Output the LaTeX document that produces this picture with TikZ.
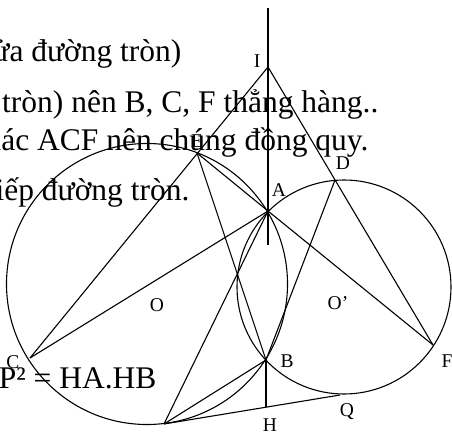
\documentclass[tikz,border=0pt]{standalone}
\usepackage{fontspec}
\setmainfont{Liberation Serif}
\begin{document}
\begin{tikzpicture}[x=1pt,y=-1pt,line width=1.1pt,
  lbl/.style={font=\fontsize{19.5}{20}\selectfont,inner sep=0pt},
  txt/.style={font=\fontsize{31.5}{32}\selectfont,anchor=base east,inner sep=0pt}]
\useasboundingbox (0,0) rectangle (452,433);
\clip (0,0) rectangle (452,433);
% text lines (cut at the left edge)
\node[txt] (t1) at (182,62) {nửa đường tròn)};
\node[txt] (t2) at (379,113) {đường tròn) nên B, C, F thẳng hàng..};
\node[txt] (t3) at (369,150) {giác ACF nên chúng đồng quy.};
\node[txt] (t4) at (190,200) {tiếp đường tròn.};
\node[txt] (t5) at (157,388) {HP² = HA.HB};
% points
\coordinate (Top) at (268,8);
\coordinate (Vend) at (268,245);
\coordinate (I) at (268,67);
\coordinate (A) at (268,211);
\coordinate (B) at (266,360);
\coordinate (E) at (197,153);
\coordinate (D) at (335,180);
\coordinate (C) at (30,358);
\coordinate (F) at (433,345);
\coordinate (P) at (164,424);
\coordinate (Q) at (340,395);
\coordinate (H) at (266,407);
\coordinate (O) at (147,284);
\coordinate (O2) at (344,287);
% circles
\draw (O) circle[radius=140.5pt];
\draw (O2) circle[radius=107pt];
% lines
\draw (Top) -- (Vend);
\draw (I) -- (C);
\draw (I) -- (F);
\draw (C) -- (A);
\draw (A) -- (F);
\draw (E) -- (A);
\draw (E) -- (B);
\draw (D) -- (B);
\draw (A) -- (P);
\draw (P) -- (B);
\draw (P) -- (Q);
\draw (B) -- (H);
% labels
\node[lbl] (lI) at (257,61) {I};
\node[lbl] (lA) at (279,190) {A};
\node[lbl] (lE) at (197,141) {E};
\node[lbl] (lD) at (343,163) {D};
\node[lbl] (lO) at (157,305) {O};
\node[lbl] (lO2) at (338,303) {O'};
\node[lbl] (lB) at (287,361) {B};
\node[lbl] (lF) at (447,361) {F};
\node[lbl] (lQ) at (347,412) {Q};
\node[lbl] (lH) at (270,425) {H};
\node[lbl] (lC) at (13,362) {C};
\end{tikzpicture}
\end{document}
